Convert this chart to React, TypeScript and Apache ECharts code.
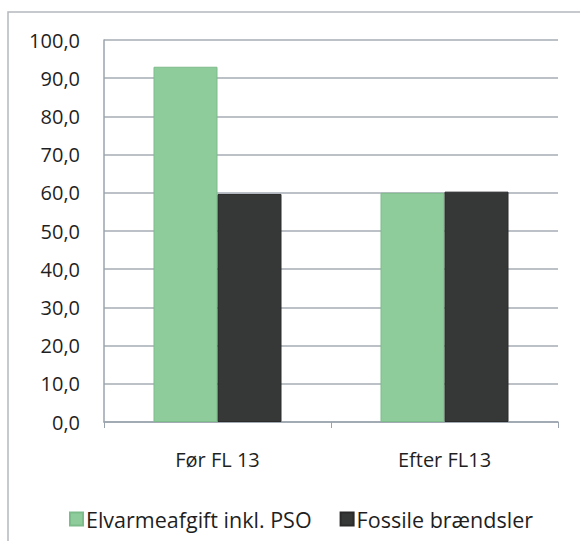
import React, { useEffect, useRef } from "react";
import * as echarts from "echarts";

const categories = ["Før FL 13", "Efter FL13"];
const elvarme = [93.0, 60.0];
const fossile = [59.7, 60.3];
const seriesNames = ["Elvarmeafgift inkl. PSO", "Fossile brændsler"];

const FONT = "Open Sans";

export default function App() {
  const ref = useRef<HTMLDivElement>(null);
  useEffect(() => {
    if (!ref.current) return;
    const chart = echarts.init(ref.current, null, { renderer: "svg" });
    chart.setOption({
      animation: false,
      backgroundColor: "#ffffff",
      textStyle: { fontFamily: FONT },
      graphic: [
        {
          type: "rect",
          shape: { x: 8, y: 12, width: 600, height: 560 },
          style: { fill: "none", stroke: "#b4b8bd", lineWidth: 1.5 },
          silent: true,
          z: -1,
        },
      ],
      grid: { left: 104, right: 22, top: 40, bottom: 119, containLabel: false },
      legend: {
        bottom: 6,
        left: 64,
        itemWidth: 13,
        itemHeight: 13,
        itemGap: 28,
        icon: "rect",
        textStyle: { fontFamily: FONT, fontSize: 21.5, color: "#1f1f1f", padding: [0, 0, 0, -2] },
        data: seriesNames,
      },
      xAxis: {
        type: "category",
        data: categories,
        axisLine: { lineStyle: { color: "#9aa3ad", width: 1.5 } },
        axisTick: { show: true, length: 6, alignWithLabel: false, lineStyle: { color: "#9aa3ad" } },
        axisLabel: { fontFamily: FONT, fontSize: 20, color: "#1f1f1f", margin: 27 },
      },
      yAxis: {
        type: "value",
        min: 0,
        max: 100,
        interval: 10,
        axisLine: { show: true, lineStyle: { color: "#9aa3ad", width: 1.5 } },
        axisTick: { show: false },
        splitLine: { lineStyle: { color: "#a4acb5", width: 1.5 } },
        axisLabel: {
          fontFamily: FONT,
          fontSize: 20,
          color: "#1f1f1f",
          margin: 24,
          formatter: (v: number) => v.toFixed(1).replace(".", ","),
        },
      },
      series: [
        {
          name: seriesNames[0],
          type: "bar",
          data: elvarme,
          barWidth: 64,
          barGap: "0%",
          itemStyle: { color: "#8fcc9c", borderColor: "#7dbb8a", borderWidth: 1 },
        },
        {
          name: seriesNames[1],
          type: "bar",
          data: fossile,
          barWidth: 64,
          barGap: "0%",
          itemStyle: { color: "#363838", borderColor: "#2a2a2a", borderWidth: 1 },
        },
      ],
    });
    return () => chart.dispose();
  }, []);
  return (
    <div
      ref={ref}
      style={{ position: "fixed", left: 0, top: 0, width: 580, height: 541 }}
    />
  );
}
